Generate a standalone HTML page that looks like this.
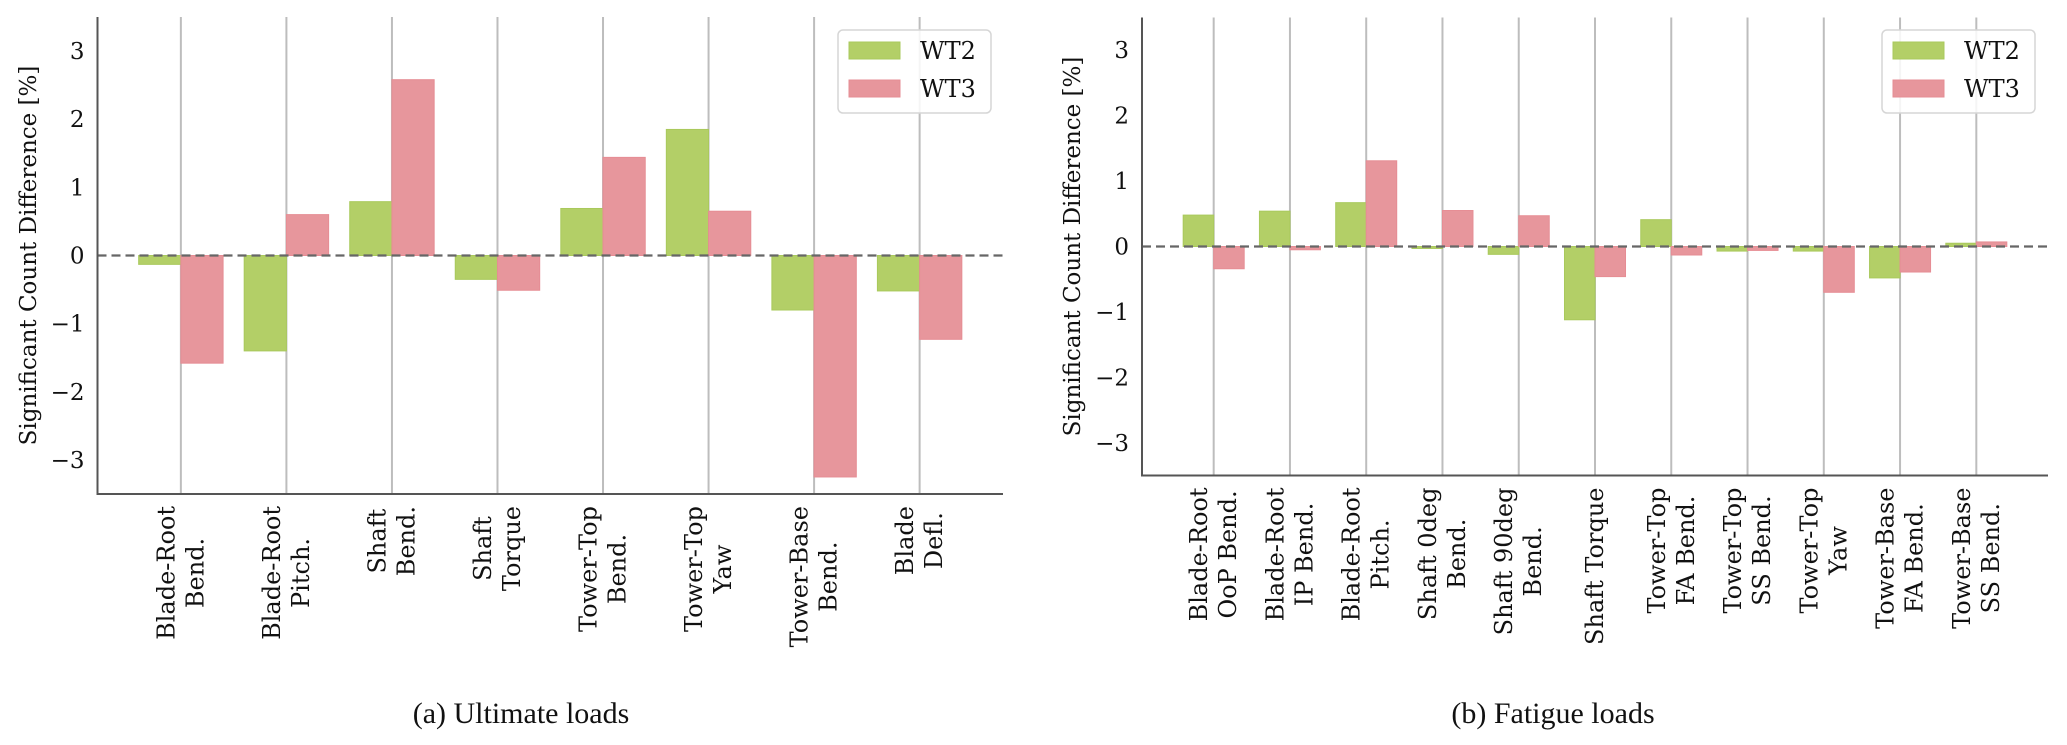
<!DOCTYPE html>
<html><head><meta charset="utf-8"><style>
html,body{margin:0;padding:0;background:#fff;}
svg{display:block;}
text{font-family:"DejaVu Serif","Liberation Serif",serif;fill:#111;}
.cap{font-family:"Liberation Serif","DejaVu Serif",serif;}
</style></head><body>
<svg id="fig" width="2067" height="745" viewBox="0 0 2067 745" xmlns="http://www.w3.org/2000/svg"></svg>
<script>
const ultCategories = [["Blade-Root","Bend."],["Blade-Root","Pitch."],["Shaft","Bend."],["Shaft","Torque"],["Tower-Top","Bend."],["Tower-Top","Yaw"],["Tower-Base","Bend."],["Blade","Defl."]];
const ultWT2 = [-0.13,-1.40,0.79,-0.35,0.69,1.85,-0.80,-0.52];
const ultWT3 = [-1.58,0.60,2.58,-0.51,1.44,0.65,-3.25,-1.23];
const fatCategories = [["Blade-Root","OoP Bend."],["Blade-Root","IP Bend."],["Blade-Root","Pitch."],["Shaft 0deg","Bend."],["Shaft 90deg","Bend."],["Shaft Torque"],["Tower-Top","FA Bend."],["Tower-Top","SS Bend."],["Tower-Top","Yaw"],["Tower-Base","FA Bend."],["Tower-Base","SS Bend."]];
const fatWT2 = [0.48,0.54,0.67,-0.03,-0.12,-1.12,0.41,-0.07,-0.07,-0.48,0.05];
const fatWT3 = [-0.34,-0.05,1.31,0.55,0.47,-0.46,-0.13,-0.06,-0.70,-0.39,0.07];
const yTicks = [-3,-2,-1,0,1,2,3];
const seriesNames = ["WT2","WT3"];

const NS="http://www.w3.org/2000/svg";
const svg=document.getElementById('fig');
function mk(tag,attrs,parent){const e=document.createElementNS(NS,tag);for(const k in attrs)e.setAttribute(k,attrs[k]);(parent||svg).appendChild(e);return e;}

function panel(cfg){
  const g=mk('g',{});
  
  
  const n=cfg.cats.length, m=0.4+0.05*(n-0.2);
  const x0=-m, x1=n-1+m;
  const X=v=>cfg.left+(v-x0)/(x1-x0)*(cfg.right-cfg.left);
  const Y=v=>cfg.top+(3.5-v)/7*(cfg.bottom-cfg.top);
  const unit=X(1)-X(0);
  cfg.cats.forEach((c,i)=>{
    const l=mk('line',{x1:X(i),x2:X(i),y1:cfg.top,y2:cfg.bottom,stroke:'#bdbdbd','stroke-width':2},g);
    
    
  });
  const series=[cfg.s2,cfg.s3], fills=['#b3cf67','#e7969c'], strokes=['#a9c95c','#e68d94'];
  series.forEach((arr,si)=>{
    arr.forEach((v,i)=>{
      const xa=X(i-0.4+si*0.4), y=Math.min(Y(v),Y(0)), h=Math.abs(Y(v)-Y(0));
      const r=mk('rect',{x:xa,y:y,width:unit*0.4,height:Math.max(h,0.5),fill:fills[si],stroke:strokes[si],'stroke-width':1},g);
      
      
    });
  });
  const z=mk('line',{x1:cfg.left,x2:cfg.right,y1:Y(0),y2:Y(0),stroke:'#666','stroke-width':2.2,'stroke-dasharray':'9,5'},g);
  
  
  const sp=mk('path',{d:`M${cfg.left} ${cfg.top}V${cfg.bottom}H${cfg.right}`,fill:'none',stroke:'#555','stroke-width':2},g);
  
  
  yTicks.forEach(t=>{
    const tx=mk('text',{x:cfg.left-13,y:Y(t)+8,'text-anchor':'end','font-size':23},g);
    tx.textContent=(t<0?'\u2212':'')+Math.abs(t);
    
    
  });
  const yl=mk('text',{transform:`translate(${cfg.ylabX},${(cfg.top+cfg.bottom)/2}) rotate(-90)`,'text-anchor':'middle','font-size':23},g);
  yl.textContent='Significant Count Difference [%]';
  
  
  cfg.cats.forEach((lines,i)=>{
    const lg=mk('g',{},g);
    
    
    const lh=29, nl=lines.length;
    const els=lines.map((s,k)=>{
      const cx=X(i)+(k-(nl-1)/2)*lh+8;
      const t=mk('text',{'font-size':24,'text-anchor':'middle'},lg);
      t.textContent=s;
      return [t,cx];
    });
    const maxL=Math.max(...els.map(e=>e[0].getComputedTextLength()));
    const top=cfg.bottom+12;
    els.forEach(([t,cx])=>{
      t.setAttribute('transform',`translate(${cx},${top+maxL/2}) rotate(-90)`);
    });
  });
  const L=cfg.leg;
  const lgd=mk('g',{},g);
  
  
  mk('rect',{x:L.x,y:30,width:153,height:83,rx:5,fill:'rgba(255,255,255,0.85)',stroke:'#d6d6d6','stroke-width':1.5},lgd);
  seriesNames.forEach((nm,si)=>{
    const e=mk('g',{},lgd);
    
    
    mk('rect',{x:L.x+11,y:42+si*38,width:51,height:17,fill:fills[si],stroke:strokes[si]},e);
    const t=mk('text',{x:L.x+82,y:59+si*38,'font-size':24},e);
    t.textContent=nm;
  });
  const c=mk('text',{x:cfg.capX,y:723,'text-anchor':'middle','font-size':30,class:'cap'},g);
  c.textContent=cfg.caption;
  
  
}
panel({name:'ultimate-loads-chart',cats:ultCategories,s2:ultWT2,s3:ultWT3,left:97.5,right:1003,top:17,bottom:494,ylabX:36,leg:{x:838},capX:521,caption:'(a) Ultimate loads'});
panel({name:'fatigue-loads-chart',cats:fatCategories,s2:fatWT2,s3:fatWT3,left:1142,right:2048,top:17.5,bottom:475.5,ylabX:1080,leg:{x:1882},capX:1553,caption:'(b) Fatigue loads'});
</script>
</body></html>
